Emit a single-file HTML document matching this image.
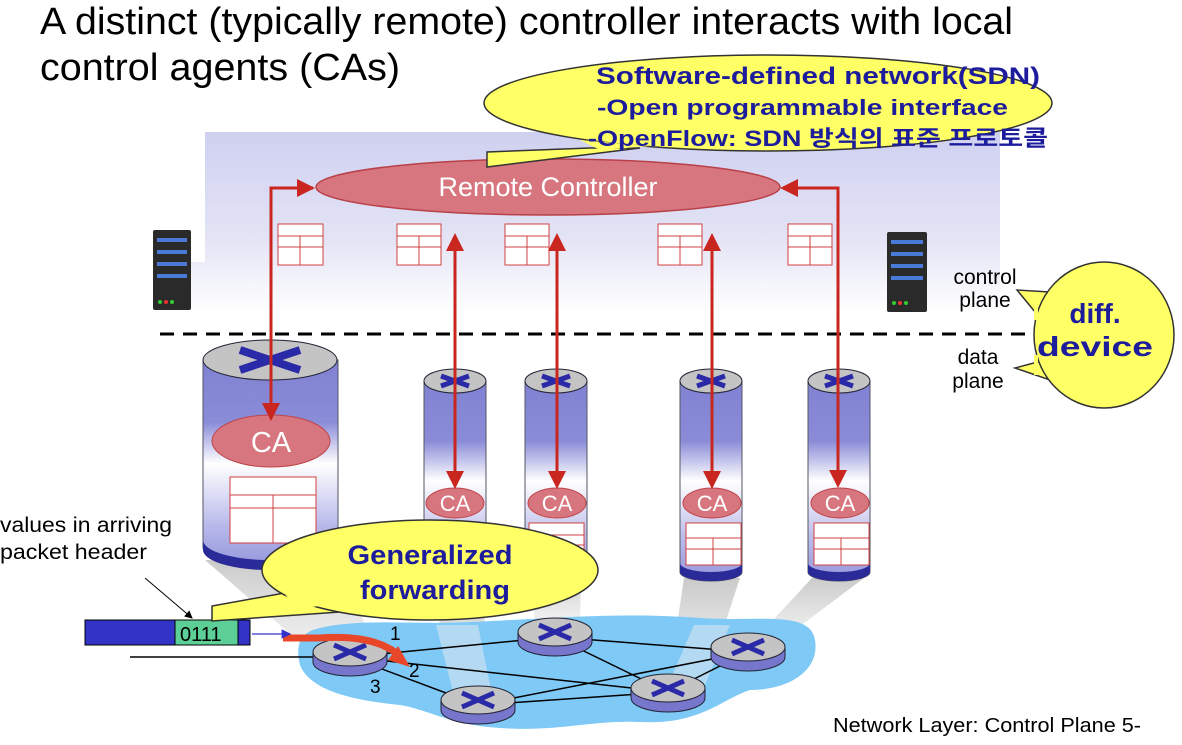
<!DOCTYPE html>
<html><head><meta charset="utf-8"><style>
body{margin:0;background:#fff;width:1182px;height:740px;overflow:hidden}
text{font-family:"Liberation Sans","Noto Sans CJK KR",sans-serif}
.b{font-weight:bold;fill:#1c1c9c}
</style></head><body>
<svg width="1182" height="740" viewBox="0 0 1182 740" xmlns="http://www.w3.org/2000/svg">
<defs>
<linearGradient id="cp" x1="0" y1="0" x2="0" y2="1">
<stop offset="0" stop-color="#cfd0f0"/><stop offset="0.6" stop-color="#e4e4f6"/><stop offset="1" stop-color="#ffffff"/></linearGradient>
<linearGradient id="cyl" x1="0" y1="0" x2="0" y2="1">
<stop offset="0" stop-color="#8082d2"/><stop offset="0.3" stop-color="#8a8cd8"/><stop offset="0.5" stop-color="#ffffff"/><stop offset="0.8" stop-color="#b8b9ea"/><stop offset="1" stop-color="#9496dc"/></linearGradient>
<linearGradient id="beam" x1="0" y1="0" x2="0" y2="1">
<stop offset="0" stop-color="#bdbdbd" stop-opacity="0.8"/><stop offset="1" stop-color="#e8e8e8" stop-opacity="0.5"/></linearGradient>
<marker id="ah" markerWidth="6" markerHeight="6" refX="5" refY="3" orient="auto" markerUnits="strokeWidth"><path d="M0,0 L6,3 L0,6 z" fill="#c8261e"/></marker>
<marker id="ab" markerWidth="8" markerHeight="8" refX="7" refY="4" orient="auto" markerUnits="strokeWidth"><path d="M0,0 L8,4 L0,8 z" fill="#3333cc"/></marker>
<marker id="ak" markerWidth="8" markerHeight="8" refX="7" refY="4" orient="auto" markerUnits="strokeWidth"><path d="M0,0 L8,4 L0,8 z" fill="#000"/></marker>
<g id="rt">
<path d="M-37,0 v10 a37,14 0 0 0 74,0 v-10 z" fill="#7677cc" stroke="#223" stroke-width="1"/>
<ellipse cx="0" cy="0" rx="37" ry="14" fill="#c4c4c4" stroke="#223" stroke-width="1"/>
<path d="M-16,-7 L16,7 M16,-7 L-16,7" stroke="#2a2aa8" stroke-width="5"/>
</g>
</defs>

<!-- title -->
<text x="40" y="34" font-size="38" textLength="973" lengthAdjust="spacingAndGlyphs">A distinct (typically remote) controller interacts with local</text>
<text x="40" y="80" font-size="38" textLength="360" lengthAdjust="spacingAndGlyphs">control agents (CAs)</text>

<!-- control plane area -->
<polygon points="205,132 1000,132 1000,312 160,312 160,262 205,262" fill="url(#cp)"/>

<!-- servers -->
<g>
<rect x="153" y="230" width="38" height="80" rx="2" fill="#2a2a2a"/>
<rect x="157" y="238" width="30" height="4" fill="#4a7ad8"/><rect x="157" y="250" width="30" height="4" fill="#4a7ad8"/>
<rect x="157" y="262" width="30" height="4" fill="#4a7ad8"/><rect x="157" y="274" width="30" height="4" fill="#4a7ad8"/>
<circle cx="160" cy="302" r="2" fill="#3c3"/><circle cx="166" cy="302" r="2" fill="#e33"/><circle cx="172" cy="302" r="2" fill="#3c3"/>
</g>
<g>
<rect x="887" y="232" width="40" height="80" rx="2" fill="#2a2a2a"/>
<rect x="891" y="240" width="32" height="4" fill="#4a7ad8"/><rect x="891" y="252" width="32" height="4" fill="#4a7ad8"/>
<rect x="891" y="264" width="32" height="4" fill="#4a7ad8"/><rect x="891" y="276" width="32" height="4" fill="#4a7ad8"/>
<circle cx="894" cy="303" r="2" fill="#3c3"/><circle cx="900" cy="303" r="2" fill="#e33"/><circle cx="906" cy="303" r="2" fill="#3c3"/>
</g>

<!-- flow tables control plane -->
<g fill="#fff" stroke="#d04040" stroke-width="1">
<rect x="278" y="224" width="45" height="41"/><path d="M278,236 h45 M278,247 h45 M300,236 v29"/>
<rect x="397" y="224" width="44" height="41"/><path d="M397,236 h44 M397,247 h44 M419,236 v29"/>
<rect x="505" y="224" width="44" height="41"/><path d="M505,236 h44 M505,247 h44 M527,236 v29"/>
<rect x="658" y="224" width="44" height="41"/><path d="M658,236 h44 M658,247 h44 M680,236 v29"/>
<rect x="788" y="224" width="44" height="41"/><path d="M788,236 h44 M788,247 h44 M810,236 v29"/>
</g>

<!-- remote controller -->
<ellipse cx="548" cy="187" rx="232" ry="28" fill="#d7767e" stroke="#b84048" stroke-width="1.5"/>
<text x="548" y="196" font-size="27" fill="#fff" text-anchor="middle">Remote Controller</text>

<!-- SDN bubble -->
<path d="M590,148 L487,152 L487,167 L640,148 z" fill="#ffff66" stroke="#333" stroke-width="1.5"/>
<ellipse cx="768" cy="103" rx="284" ry="48" fill="#ffff66" stroke="#333" stroke-width="1.5"/>
<path d="M580,140 L600,150 L650,146 z" fill="#ffff66"/>
<text x="596" y="84" font-size="24" class="b" textLength="444" lengthAdjust="spacingAndGlyphs">Software-defined network(SDN)</text>
<text x="597" y="115" font-size="22" class="b" textLength="411" lengthAdjust="spacingAndGlyphs">-Open programmable interface</text>
<text x="588" y="146" font-size="22" class="b" textLength="460" lengthAdjust="spacingAndGlyphs">-OpenFlow: SDN 방식의 표준 프로토콜</text>

<!-- dashed line -->
<line x1="160" y1="334" x2="1035" y2="334" stroke="#000" stroke-width="3" stroke-dasharray="14,9"/>
<text x="985" y="284" font-size="21" text-anchor="middle">control</text>
<text x="985" y="307" font-size="21" text-anchor="middle">plane</text>
<text x="978" y="364" font-size="21" text-anchor="middle">data</text>
<text x="978" y="388" font-size="21" text-anchor="middle">plane</text>

<!-- diff device bubble -->
<path d="M1050,292 L1017,290 L1040,318 z M1045,360 L1015,368 L1050,380 z" fill="#ffff66" stroke="#333" stroke-width="1.5"/>
<ellipse cx="1104" cy="335" rx="70" ry="73" fill="#ffff66" stroke="#333" stroke-width="1.5"/>
<path d="M1036,300 L1036,320 M1036,355 L1036,375" stroke="#ffff66" stroke-width="4"/>
<text x="1095" y="323" font-size="28" class="b" text-anchor="middle">diff.</text>
<text x="1095" y="356" font-size="28" class="b" text-anchor="middle" textLength="116" lengthAdjust="spacingAndGlyphs">device</text>

<!-- beams -->
<g fill="url(#beam)">
<polygon points="205,560 338,560 380,660 320,660"/>
<polygon points="430,575 480,575 493,700 455,700"/>
<polygon points="531,575 581,575 580,625 535,625"/>
<polygon points="684,578 740,578 705,685 668,685"/>
<polygon points="812,578 864,578 775,645 750,645"/>
</g>

<!-- network cloud -->
<path d="M320,628 C360,618 420,625 470,622 C560,618 620,612 700,618 C760,622 810,610 815,640 C820,670 790,690 750,690 C720,700 700,725 640,722 C590,720 560,732 500,728 C450,725 430,710 400,705 C350,700 310,690 300,665 C295,645 300,632 320,628 z" fill="#7ec9f5"/>
<g fill="#dfe8ee" opacity="0.55">
<polygon points="436,625 478,625 493,700 455,700"/>
<polygon points="694,625 730,625 705,685 668,685"/>
</g>

<!-- links -->
<g stroke="#000" stroke-width="1.5">
<line x1="350" y1="657" x2="555" y2="637"/>
<line x1="350" y1="657" x2="668" y2="692"/>
<line x1="350" y1="657" x2="478" y2="705"/>
<line x1="555" y1="637" x2="748" y2="652"/>
<line x1="555" y1="637" x2="668" y2="692"/>
<line x1="478" y1="705" x2="748" y2="652"/>
<line x1="478" y1="705" x2="668" y2="692"/>
<line x1="668" y1="692" x2="748" y2="652"/>
<line x1="130" y1="657" x2="315" y2="657"/>
</g>
<use href="#rt" x="350" y="652"/>
<use href="#rt" x="555" y="632"/>
<use href="#rt" x="478" y="700"/>
<use href="#rt" x="668" y="688"/>
<use href="#rt" x="748" y="647"/>

<!-- red forwarding arrow -->
<path d="M283,638 L320,638 C345,636 375,638 395,652" stroke="#e8472a" stroke-width="7" fill="none"/>
<polygon points="388,660 410,667 398,646" fill="#e8472a"/>
<text x="390" y="640" font-size="19">1</text>
<text x="409" y="677" font-size="19">2</text>
<text x="370" y="693" font-size="19">3</text>

<!-- packet -->
<rect x="85" y="620" width="165" height="25" fill="#3333c6" stroke="#000"/>
<rect x="175" y="620" width="63" height="25" fill="#5ccf96" stroke="#000"/>
<text x="180" y="641" font-size="20">0111</text>
<line x1="252" y1="634" x2="290" y2="634" stroke="#3333cc" stroke-width="1.2" marker-end="url(#ab)"/>
<text x="0" y="532" font-size="21" textLength="172" lengthAdjust="spacingAndGlyphs">values in arriving</text>
<text x="0" y="559" font-size="21" textLength="147" lengthAdjust="spacingAndGlyphs">packet header</text>
<line x1="145" y1="578" x2="192" y2="618" stroke="#000" stroke-width="1" marker-end="url(#ak)"/>

<!-- big cylinder -->
<path d="M203,360 V547 A67,20 0 0 0 338,547 V360 z" fill="url(#cyl)" stroke="#556" stroke-width="1"/>
<path d="M203,540 v10 a67,20 0 0 0 135,0 v-10 a67,20 0 0 1 -135,0 z" fill="#2a2a98"/>
<ellipse cx="270" cy="360" rx="67" ry="20" fill="#c4c4c4" stroke="#223"/>
<path d="M240,350 L300,370 M300,350 L240,370" stroke="#2a2aa8" stroke-width="8"/>
<ellipse cx="271" cy="441" rx="59" ry="26" fill="#d7767e" stroke="#c04448"/>
<text x="271" y="452" font-size="29" fill="#fff" text-anchor="middle">CA</text>
<g fill="#fff" stroke="#d04040"><rect x="230" y="477" width="86" height="66"/><path d="M230,495 h86 M230,508 h86 M273,495 v48"/></g>

<!-- small cylinders -->
<g id="sc">
<path d="M424,381 V572 A31,9 0 0 0 486,572 V381 z" fill="url(#cyl)" stroke="#556"/>
<path d="M424,563 v9 a31,9 0 0 0 62,0 v-9 a31,9 0 0 1 -62,0 z" fill="#2a2a98"/>
<ellipse cx="455" cy="381" rx="31" ry="12" fill="#c4c4c4" stroke="#223"/>
<path d="M441,376 L469,386 M469,376 L441,386" stroke="#2a2aa8" stroke-width="5"/>
</g>
<use href="#sc" x="101"/>
<use href="#sc" x="256"/>
<use href="#sc" x="384"/>
<g fill="#fff" stroke="#d04040">
<rect x="529" y="523" width="55" height="45"/><path d="M529,535 h55 M529,545 h55"/>
<rect x="686" y="523" width="55" height="42"/><path d="M686,538 h55 M686,549 h55 M713,538 v27"/>
<rect x="814" y="523" width="55" height="42"/><path d="M814,538 h55 M814,549 h55 M841,538 v27"/>
</g>
<g fill="#d7767e" stroke="#c04448">
<ellipse cx="455" cy="503" rx="29" ry="15"/><ellipse cx="557" cy="503" rx="29" ry="15"/>
<ellipse cx="712" cy="503" rx="29" ry="15"/><ellipse cx="840" cy="503" rx="29" ry="15"/>
</g>
<g font-size="22" fill="#fff" text-anchor="middle">
<text x="455" y="511">CA</text><text x="557" y="511">CA</text><text x="712" y="511">CA</text><text x="840" y="511">CA</text>
</g>

<!-- red control arrows -->
<g stroke="#c8261e" stroke-width="3" fill="none">
<polyline points="313,188 271,188 271,418" marker-end="url(#ah)"/>
<line x1="271" y1="188" x2="312" y2="188" marker-end="url(#ah)"/>
<polyline points="785,188 838,188 838,485" marker-end="url(#ah)"/>
<line x1="838" y1="188" x2="783" y2="188" marker-end="url(#ah)"/>
<line x1="455" y1="250" x2="455" y2="486" marker-end="url(#ah)"/>
<line x1="455" y1="300" x2="455" y2="236" marker-end="url(#ah)"/>
<line x1="557" y1="250" x2="557" y2="486" marker-end="url(#ah)"/>
<line x1="557" y1="300" x2="557" y2="236" marker-end="url(#ah)"/>
<line x1="712" y1="250" x2="712" y2="486" marker-end="url(#ah)"/>
<line x1="712" y1="300" x2="712" y2="236" marker-end="url(#ah)"/>
</g>

<!-- generalized forwarding bubble -->
<path d="M290,592 L212,606 L212,621 L340,612 z" fill="#ffff66" stroke="#333" stroke-width="1.5"/>
<ellipse cx="430" cy="570" rx="168" ry="50" fill="#ffff66" stroke="#333" stroke-width="1.5"/>
<path d="M285,595 L300,608 L330,605 z" fill="#ffff66"/>
<text x="430" y="564" font-size="27" class="b" text-anchor="middle" textLength="165" lengthAdjust="spacingAndGlyphs">Generalized</text>
<text x="435" y="599" font-size="27" class="b" text-anchor="middle" textLength="150" lengthAdjust="spacingAndGlyphs">forwarding</text>

<text x="833" y="732" font-size="20" textLength="308" lengthAdjust="spacingAndGlyphs">Network Layer: Control Plane  5-</text>
</svg>
</body></html>
